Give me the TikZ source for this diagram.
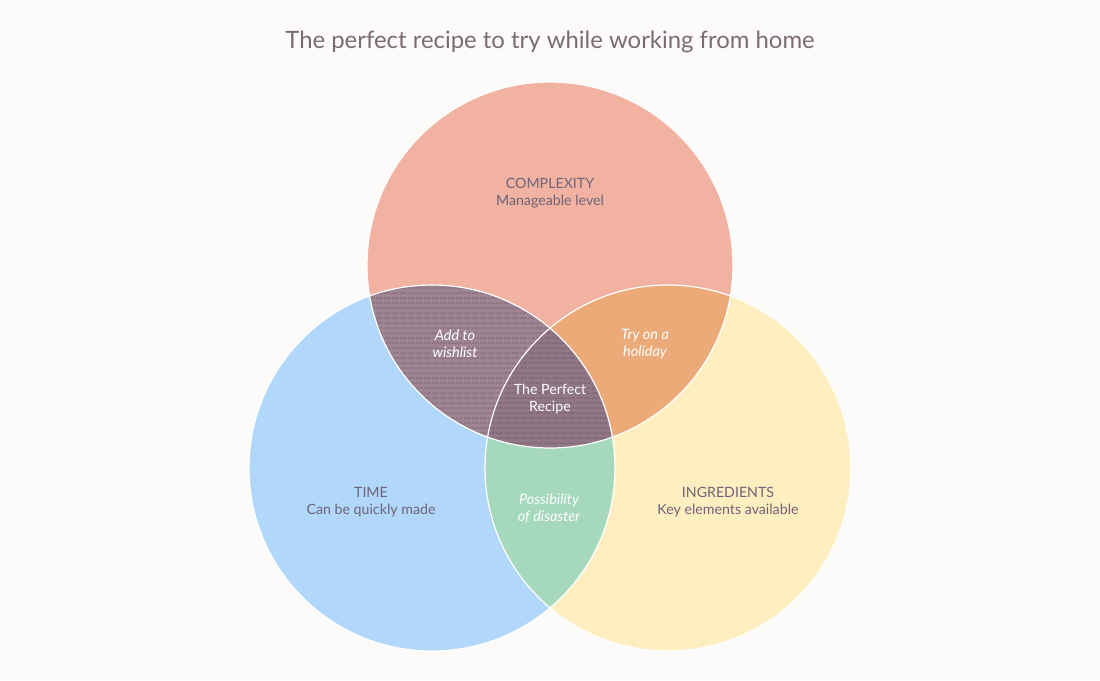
\documentclass[tikz,border=0pt]{standalone}
\usepackage{fontspec}
\setmainfont{Lato}
\usetikzlibrary{positioning,patterns.meta}
\definecolor{bgcol}{HTML}{FCFBFA}
\definecolor{titlecol}{HTML}{7C6B76}
\definecolor{labelcol}{HTML}{6E6478}
\definecolor{topcol}{HTML}{F2B2A1}
\definecolor{leftcol}{HTML}{B1D8FB}
\definecolor{rightcol}{HTML}{FEEEC0}
\definecolor{mauvecol}{HTML}{A08693}
\definecolor{darkmauvecol}{HTML}{927887}
\definecolor{orangecol}{HTML}{EBAA78}
\definecolor{greencol}{HTML}{A5D8BC}
\tikzdeclarepattern{name=zigzag, type=uncolored,
  bounding box={(0pt,0pt) and (8pt,5pt)}, tile size={(8pt,5pt)},
  code={\draw[line width=0.5pt] (0pt,1pt) -- (2pt,3.5pt) -- (4pt,1pt) -- (6pt,3.5pt) -- (8pt,1pt);}}

\begin{document}
\begin{tikzpicture}[x=1pt,y=-1pt, set/.style={draw=white,line width=1.2pt}, setlabel/.style={text=labelcol,font=\fontsize{14.2}{17}\selectfont,align=center}, lenslabel/.style={text=white,font=\itshape\fontsize{14.5}{17}\selectfont,align=center}]
\useasboundingbox[fill=bgcol] (0,0) rectangle (1100,680);
\node(title)[text=titlecol,font=\fontsize{23.9}{28}\selectfont] at (550,42) {The perfect recipe to try while working from home};
\coordinate (ctop) at (550,265);
\coordinate (cleft) at (432,468);
\coordinate (cright) at (668,468);
% the three sets
\fill[topcol] (ctop) circle[radius=183pt];
\fill[leftcol] (cleft) circle[radius=183pt];
\fill[rightcol] (cright) circle[radius=183pt];
% overlaps
\begin{scope}
\clip (ctop) circle[radius=183pt];
\fill[mauvecol] (cleft) circle[radius=183pt];
\fill[pattern=zigzag,pattern color=darkmauvecol!85!black] (cleft) circle[radius=183pt];
\fill[orangecol] (cright) circle[radius=183pt];
\end{scope}
\begin{scope}
\clip (cleft) circle[radius=183pt];
\fill[greencol] (cright) circle[radius=183pt];
\end{scope}
\begin{scope}
\clip (ctop) circle[radius=183pt];
\clip (cleft) circle[radius=183pt];
\fill[darkmauvecol] (cright) circle[radius=183pt];
\fill[pattern=zigzag,pattern color=darkmauvecol!80!black] (cright) circle[radius=183pt];
\end{scope}
\draw[set] (ctop) circle[radius=183pt];
\draw[set] (cleft) circle[radius=183pt];
\draw[set] (cright) circle[radius=183pt];
% labels
\node(complexity)[setlabel] at (550,193) {COMPLEXITY\\Manageable level};
\node(time)[setlabel] at (371,502) {TIME\\Can be quickly made};
\node(ingredients)[setlabel] at (728,502) {INGREDIENTS\\Key elements available};
\node(wishlist)[lenslabel] at (455,344) {Add to\\wishlist};
\node(holiday)[lenslabel] at (645,344) {Try on a\\holiday};
\node(perfect)[setlabel,text=white] at (550,399) {The Perfect\\Recipe};
\node(disaster)[lenslabel] at (549,509) {Possibility\\of disaster};
\end{tikzpicture}
\end{document}
